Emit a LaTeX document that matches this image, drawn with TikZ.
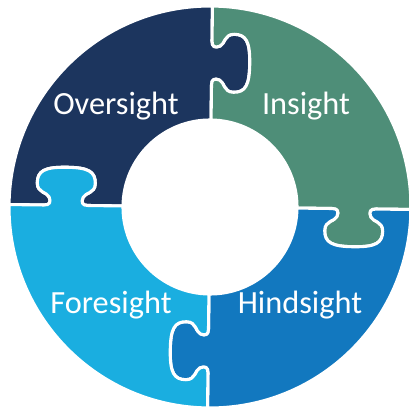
\documentclass[tikz,border=0pt]{standalone}
\usepackage{fontspec}
\setmainfont{Carlito}
\usepackage{tikz}
\definecolor{overcol}{HTML}{1C355E}
\definecolor{incol}{HTML}{4E8E78}
\definecolor{forecol}{HTML}{1AAEE0}
\definecolor{hindcol}{HTML}{1278BF}
\tikzset{
  piece/.style={draw=white, line width=2.2pt, line join=round},
  label/.style={anchor=base, text=white, font=\fontsize{23}{27}\selectfont, inner sep=0pt}
}
\begin{document}
\begin{tikzpicture}[x=0.025cm, y=0.025cm]
\useasboundingbox (-210,-202) rectangle (199,207);

% Oversight
\begin{scope}[rotate=-0.7]
\fill[overcol, piece] (0,87) -- (0,122)
 .. controls (0,128) and (3,129) .. (8,127)
 .. controls (13,125) and (12,115) .. (22,115)
 .. controls (34,115) and (38,122) .. (38,144)
 .. controls (38,166) and (34,173) .. (22,173)
 .. controls (12,173) and (13,163) .. (8,161)
 .. controls (3,159) and (0,160) .. (0,166)
 -- (0,201) arc (90:180:201) -- (-166,0)
 .. controls (-160,0) and (-159,3) .. (-161,8)
 .. controls (-163,13) and (-173,12) .. (-173,22)
 .. controls (-173,34) and (-166,38) .. (-144,38)
 .. controls (-122,38) and (-115,34) .. (-115,22)
 .. controls (-115,12) and (-125,13) .. (-127,8)
 .. controls (-129,3) and (-128,0) .. (-122,0)
 -- (-87,0) arc (180:90:87) -- cycle;
\end{scope}

% Insight
\begin{scope}[rotate=-90.7]
\fill[incol, piece] (0,87) -- (0,122)
 .. controls (0,128) and (3,129) .. (8,127)
 .. controls (13,125) and (12,115) .. (22,115)
 .. controls (34,115) and (38,122) .. (38,144)
 .. controls (38,166) and (34,173) .. (22,173)
 .. controls (12,173) and (13,163) .. (8,161)
 .. controls (3,159) and (0,160) .. (0,166)
 -- (0,201) arc (90:180:201) -- (-166,0)
 .. controls (-160,0) and (-159,3) .. (-161,8)
 .. controls (-163,13) and (-173,12) .. (-173,22)
 .. controls (-173,34) and (-166,38) .. (-144,38)
 .. controls (-122,38) and (-115,34) .. (-115,22)
 .. controls (-115,12) and (-125,13) .. (-127,8)
 .. controls (-129,3) and (-128,0) .. (-122,0)
 -- (-87,0) arc (180:90:87) -- cycle;
\end{scope}

% Hindsight
\begin{scope}[rotate=-180.7]
\fill[hindcol, piece] (0,87) -- (0,122)
 .. controls (0,128) and (3,129) .. (8,127)
 .. controls (13,125) and (12,115) .. (22,115)
 .. controls (34,115) and (38,122) .. (38,144)
 .. controls (38,166) and (34,173) .. (22,173)
 .. controls (12,173) and (13,163) .. (8,161)
 .. controls (3,159) and (0,160) .. (0,166)
 -- (0,201) arc (90:180:201) -- (-166,0)
 .. controls (-160,0) and (-159,3) .. (-161,8)
 .. controls (-163,13) and (-173,12) .. (-173,22)
 .. controls (-173,34) and (-166,38) .. (-144,38)
 .. controls (-122,38) and (-115,34) .. (-115,22)
 .. controls (-115,12) and (-125,13) .. (-127,8)
 .. controls (-129,3) and (-128,0) .. (-122,0)
 -- (-87,0) arc (180:90:87) -- cycle;
\end{scope}

% Foresight
\begin{scope}[rotate=-270.7]
\fill[forecol, piece] (0,87) -- (0,122)
 .. controls (0,128) and (3,129) .. (8,127)
 .. controls (13,125) and (12,115) .. (22,115)
 .. controls (34,115) and (38,122) .. (38,144)
 .. controls (38,166) and (34,173) .. (22,173)
 .. controls (12,173) and (13,163) .. (8,161)
 .. controls (3,159) and (0,160) .. (0,166)
 -- (0,201) arc (90:180:201) -- (-166,0)
 .. controls (-160,0) and (-159,3) .. (-161,8)
 .. controls (-163,13) and (-173,12) .. (-173,22)
 .. controls (-173,34) and (-166,38) .. (-144,38)
 .. controls (-122,38) and (-115,34) .. (-115,22)
 .. controls (-115,12) and (-125,13) .. (-127,8)
 .. controls (-129,3) and (-128,0) .. (-122,0)
 -- (-87,0) arc (180:90:87) -- cycle;
\end{scope}

\node[label] (over) at (-94,93) {Oversight};
\node[label] (ins) at (96,93) {Insight};
\node[label] (fore) at (-99,-106) {Foresight};
\node[label] (hind) at (90,-106) {Hindsight};
\end{tikzpicture}
\end{document}
